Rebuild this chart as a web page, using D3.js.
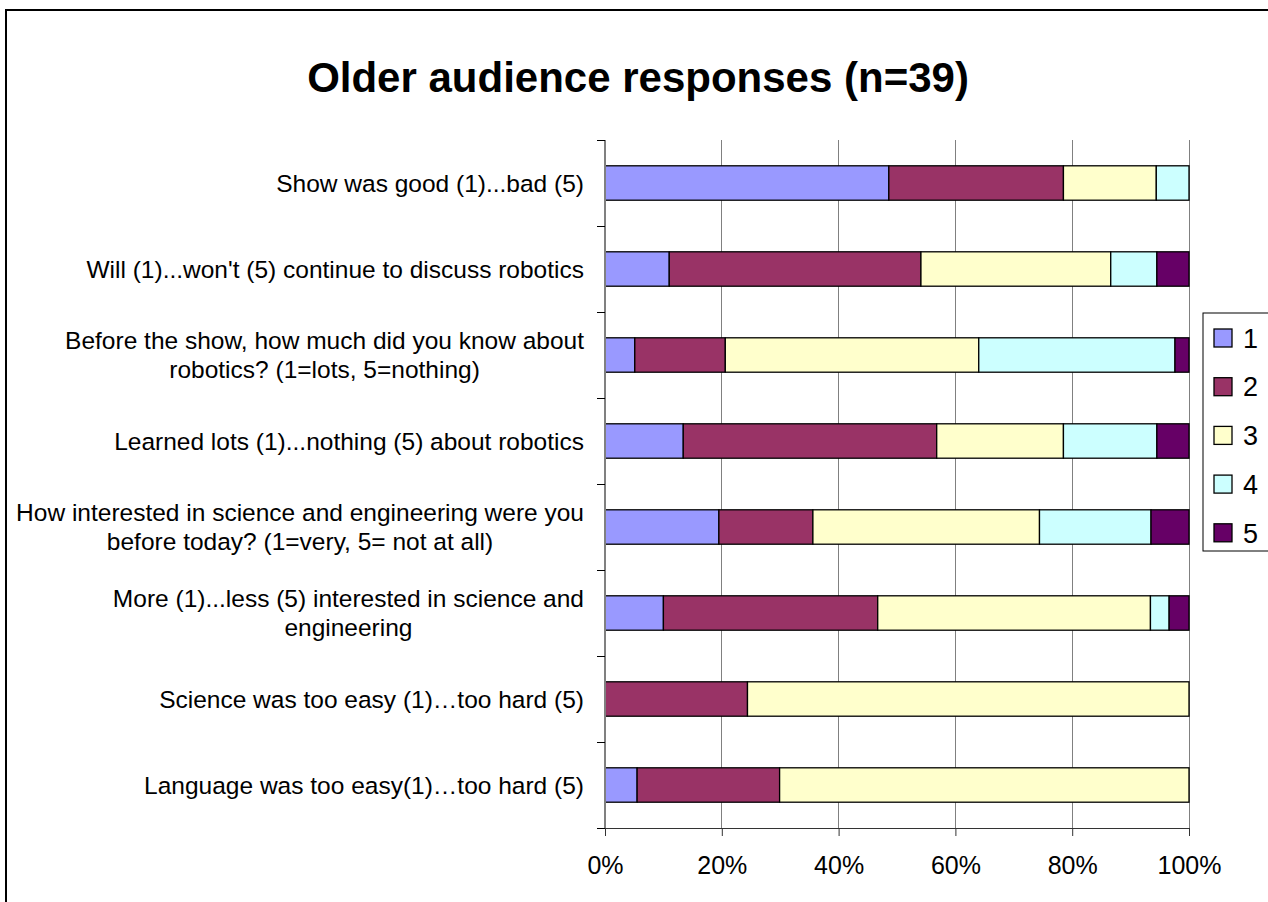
<!DOCTYPE html>
<html><head><meta charset="utf-8">
<script src="https://cdn.jsdelivr.net/npm/d3@7"></script>
<style>body{margin:0;background:#fff;} svg{display:block;font-family:"Liberation Sans",Arial,sans-serif;}</style>
</head><body><svg id="c" width="1268" height="902"></svg>
<script>
const title = "Older audience responses (n=39)";
const categories = [
  ["Show was good (1)...bad (5)"],
  ["Will (1)...won't (5) continue to discuss robotics"],
  ["Before the show, how much did you know about", "robotics? (1=lots, 5=nothing)"],
  ["Learned lots (1)...nothing (5) about robotics"],
  ["How interested in science and engineering were you", "before today? (1=very, 5= not at all)"],
  ["More (1)...less (5) interested in science and", "engineering"],
  ["Science was too easy (1)\u2026too hard (5)"],
  ["Language was too easy(1)\u2026too hard (5)"]
];
const seriesNames = ["1","2","3","4","5"];
const s1 = [48.6, 11.0, 5.1, 13.4, 19.5, 10.0, 0, 5.5];
const s2 = [29.9, 43.1, 15.5, 43.4, 16.1, 36.7, 24.4, 24.4];
const s3 = [15.9, 32.5, 43.4, 21.7, 38.8, 46.7, 75.6, 70.1];
const s4 = [5.6, 7.9, 33.6, 16.0, 19.1, 3.2, 0, 0];
const s5 = [0, 5.5, 2.4, 5.5, 6.5, 3.4, 0, 0];
const xTicks = [0, 20, 40, 60, 80, 100];
const colors = ["#9999FF", "#993366", "#FFFFCC", "#CCFFFF", "#660066"];

const seriesVals = [s1, s2, s3, s4, s5];
const table = categories.map((c, i) => {
  const o = {key: i};
  seriesNames.forEach((s, j) => o[s] = seriesVals[j][i]);
  return o;
});

const svg = d3.select("#c");
svg.append("rect").attr("x", 6).attr("y", 10).attr("width", 1300).attr("height", 1000)
  .attr("fill", "#fff").attr("stroke", "#000").attr("stroke-width", 2);

svg.append("text").attr("x", 638).attr("y", 92).attr("text-anchor", "middle")
  .attr("font-size", 42).attr("font-weight", "bold").text(title);

const x = d3.scaleLinear().domain([0, 100]).range([605, 1189]);
const y = d3.scaleBand().domain(d3.range(categories.length)).range([140, 828])
  .paddingInner(0.6).paddingOuter(0.3);

// gridlines
svg.append("g").selectAll("line").data(xTicks.filter(d => d > 0)).join("line")
  .attr("x1", d => x(d)).attr("x2", d => x(d)).attr("y1", 140).attr("y2", 828)
  .attr("stroke", "#808080").attr("stroke-width", 1).attr("shape-rendering", "crispEdges");

// stacked bars
const stack = d3.stack().keys(seriesNames)(table);
svg.append("g").selectAll("g").data(stack).join("g")
  .attr("fill", (d, i) => colors[i])
  .selectAll("rect").data(d => d.filter(p => p[1] - p[0] > 0)).join("rect")
  .attr("x", d => x(d[0])).attr("width", d => x(d[1]) - x(d[0]))
  .attr("y", d => y(d.data.key)).attr("height", y.bandwidth())
  .attr("stroke", "#000").attr("stroke-width", 1.3);

// left axis line and category ticks
const step = y.step();
const bounds = d3.range(categories.length + 1).map(i => y(0) - y.paddingOuter() * step + i * step);
svg.append("line").attr("x1", x(0)).attr("x2", x(0)).attr("y1", 140).attr("y2", 828)
  .attr("stroke", "#808080").attr("stroke-width", 2);
svg.append("g").selectAll("line").data(bounds).join("line")
  .attr("x1", x(0) - 8).attr("x2", x(0)).attr("y1", d => d).attr("y2", d => d)
  .attr("stroke", "#000").attr("stroke-width", 1).attr("shape-rendering", "crispEdges");

// bottom axis
const xa = svg.append("g").attr("transform", "translate(0,828)")
  .call(d3.axisBottom(x).tickValues(xTicks).tickFormat(d => d + "%").tickSize(8).tickSizeOuter(0));
xa.select(".domain").attr("stroke", "#333");
xa.selectAll(".tick line").attr("stroke", "#333");
xa.selectAll(".tick text").attr("font-size", 25).attr("font-family", "Liberation Sans, Arial, sans-serif")
  .attr("fill", "#000").attr("dy", 0).attr("y", 46);

// category labels
const fs = 24.5, lh = 29;
const lg = svg.append("g").attr("font-size", fs);
categories.forEach((lines, i) => {
  const cy = y(i) + y.bandwidth() / 2;
  const g = lg.append("g");
  const n = lines.length;
  const ts = lines.map((t, k) => g.append("text")
    .attr("y", cy + (k - (n - 1) / 2) * lh + fs * 0.35).text(t));
  const widths = ts.map(t => t.node().getComputedTextLength());
  const maxW = d3.max(widths);
  const cx = 584 - maxW / 2;
  ts.forEach(t => t.attr("x", cx).attr("text-anchor", "middle"));
});

// legend
const leg = svg.append("g");
leg.append("rect").attr("x", 1203).attr("y", 313).attr("width", 100).attr("height", 238)
  .attr("fill", "#fff").attr("stroke", "#000").attr("stroke-width", 1);
seriesNames.forEach((s, i) => {
  const cy = 338 + i * 48.7;
  leg.append("rect").attr("x", 1214).attr("y", cy - 9).attr("width", 18).attr("height", 18)
    .attr("fill", colors[i]).attr("stroke", "#000").attr("stroke-width", 1.3);
  leg.append("text").attr("x", 1243).attr("y", cy + 27 * 0.36).attr("font-size", 27).text(s);
});
</script></body></html>
